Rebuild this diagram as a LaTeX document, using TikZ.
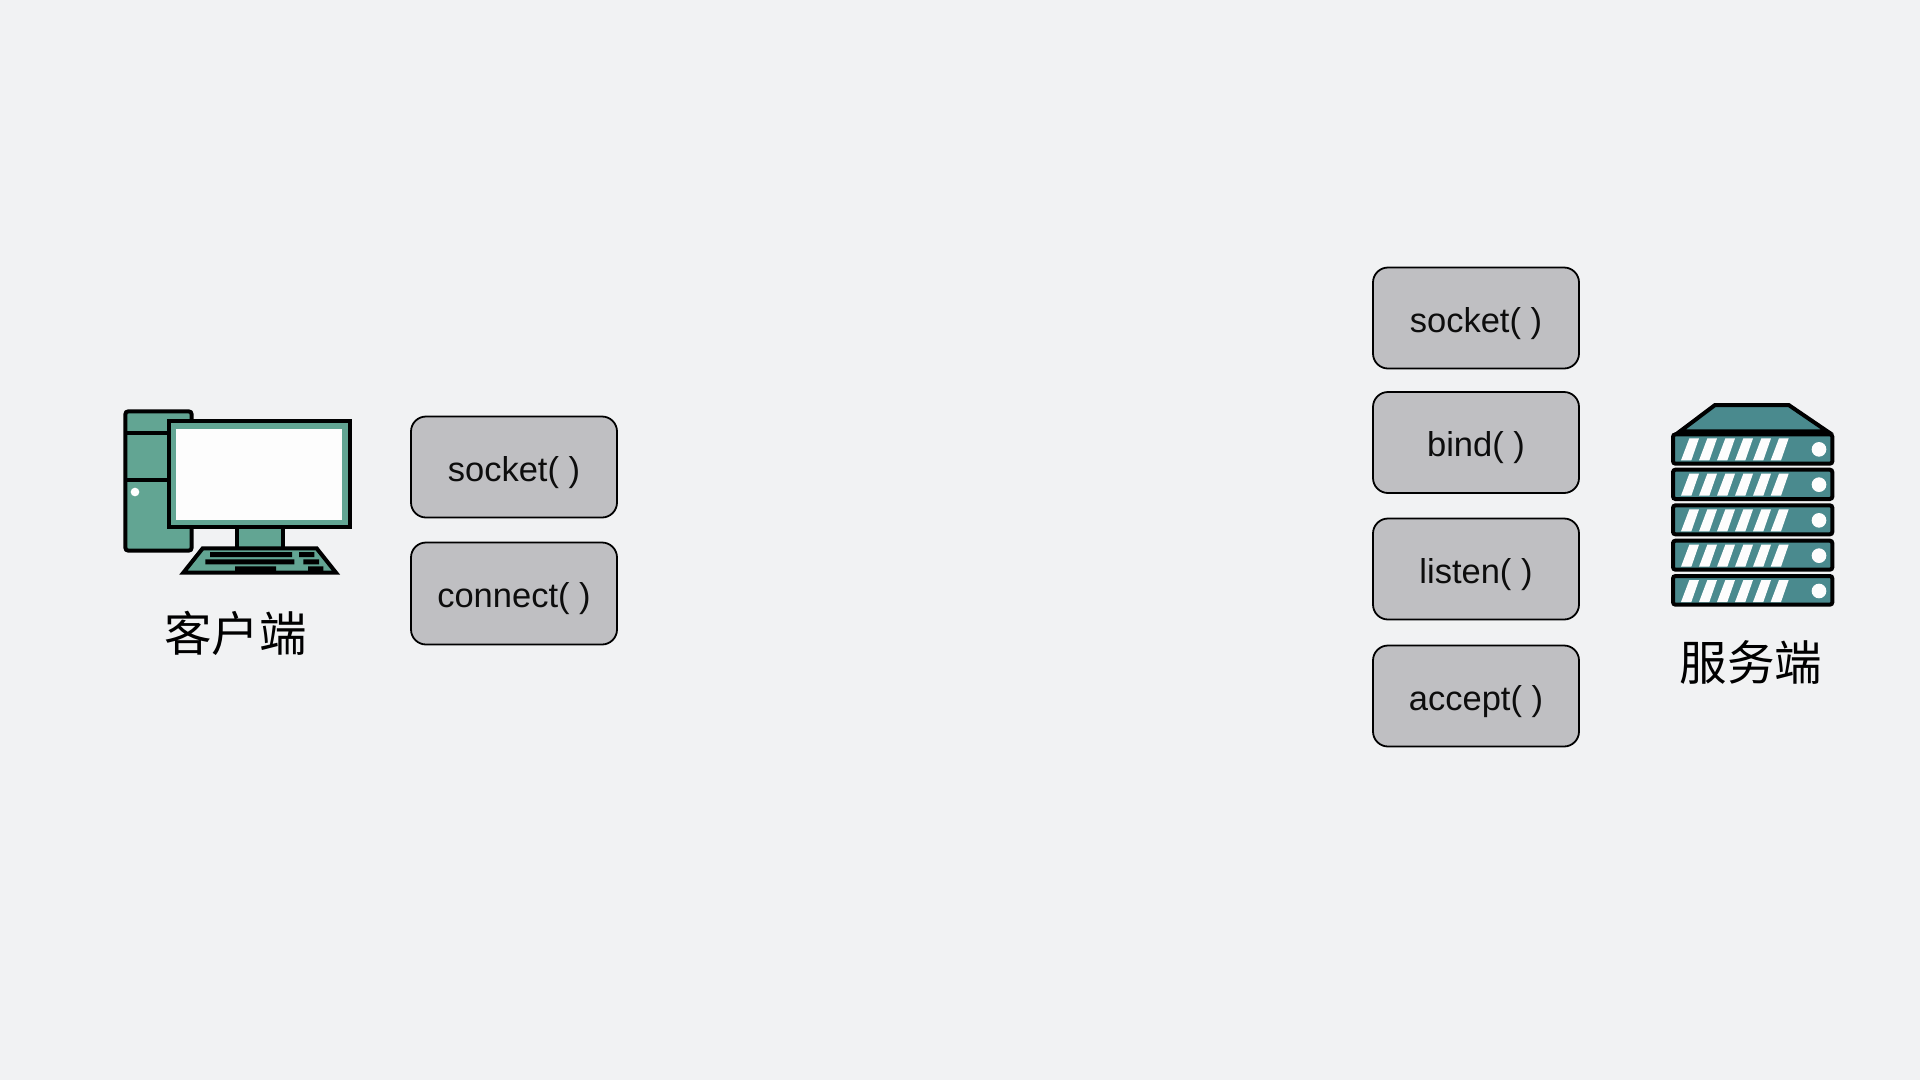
\documentclass[tikz,border=0pt]{standalone}
\usepackage{fontspec}
\setmainfont{Liberation Sans}
\newfontfamily\cjk{Noto Sans CJK SC}
\definecolor{bgc}{HTML}{F1F2F3}
\definecolor{boxc}{HTML}{BFBFC2}
\definecolor{pcc}{HTML}{62A593}
\definecolor{srvc}{HTML}{4A8A8E}
\definecolor{scr}{HTML}{FDFDFD}
\tikzset{
  fnbox/.style={draw=black,line width=1.8pt,fill=boxc,rounded corners=15pt,minimum width=206pt,minimum height=101pt,inner sep=0pt,text height=28pt,text depth=0pt,font=\fontsize{34.5}{34.5}\selectfont,text=black!95},
  lbl/.style={inner sep=0pt,font=\cjk\fontsize{47.5}{47.5}\selectfont,text=black},
  ink/.style={draw=black,line width=4pt,line join=miter},
  rowbox/.style={draw=black,line width=4pt,fill=srvc,rounded corners=2.5pt},
  slit/.style={fill=scr,draw=none}
}
\begin{document}
\begin{tikzpicture}[x=1pt,y=-1pt]
\useasboundingbox (0,0) rectangle (1920,1080);
\fill[bgc] (0,0) rectangle (1920,1080);
% function boxes
\node[fnbox] (csock) at (514,467) {socket( )};
\node[fnbox,minimum height=102pt] (cconn) at (514,593.5) {connect( )};
\node[fnbox] (ssock) at (1476,318) {socket( )};
\node[fnbox] (sbind) at (1476,442.5) {bind( )};
\node[fnbox] (slist) at (1476,569) {listen( )};
\node[fnbox] (sacc) at (1476,696) {accept( )};
% labels
\node[lbl] (clabel) at (235.5,633) {客户端};
\node[lbl] (slabel) at (1751,662) {服务端};
% computer
\begin{scope}[xshift=100pt,yshift=-390pt,x=0.33333pt,y=-0.33333pt]
\draw[ink,rounded corners=3pt,fill=pcc] (205,482) -- (275,482) -- (275,64) -- (76,64) -- (76,482) -- cycle;
\draw[ink] (76,130) -- (205,130) (76,270) -- (205,270);
\fill[white] (105,306) circle (13);
\draw[ink,fill=pcc] (411,412) rectangle (549,476);
\draw[ink,fill=pcc] (208,94) rectangle (749,412);
\fill[scr] (227,116) rectangle (727,390);
\draw[ink,fill=pcc] (308,475) -- (650,475) -- (708,548) -- (250,548) -- cycle;
\fill[black] (330,486) rectangle (576,501) (597,486) rectangle (643,501)
  (316,508) rectangle (583,523) (610,508) rectangle (657,523)
  (405,529) rectangle (528,544) (624,529) rectangle (670,544);
\end{scope}
% server
\begin{scope}[xshift=1650pt,yshift=-390pt,x=0.33333pt,y=-0.33333pt]
\draw[ink,fill=srvc] (195,45) -- (416,45) -- (532,124) -- (90,124) -- cycle;
\foreach \t/\b in {133/221,239/327,346/433,452/539,558/644}{
  \draw[rowbox] (69,\t) rectangle (547,\b);
  \foreach \d in {0,54,108,162,216,269}{
    \fill[slit] (118+\d,\t+12) -- (147+\d,\t+12) -- (124+\d,\t+78) -- (93+\d,\t+78) -- cycle;
  }
  \fill[scr] (507,\t+45) circle (22);
}
\end{scope}
\end{tikzpicture}
\end{document}
